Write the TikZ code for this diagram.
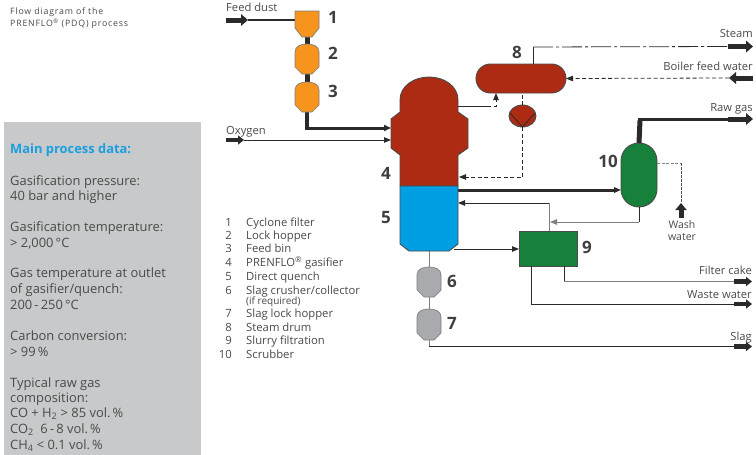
\documentclass[tikz,border=0pt]{standalone}
\usepackage{fontspec}
\setmainfont{Open Sans}
\usetikzlibrary{arrows.meta,shapes.geometric}
\definecolor{panel}{HTML}{C8C9CA}
\definecolor{bluetxt}{HTML}{1B9FE0}
\definecolor{orng}{HTML}{F7941E}
\definecolor{redv}{HTML}{AE2B13}
\definecolor{bluev}{HTML}{009FE3}
\definecolor{greenv}{HTML}{17803A}
\definecolor{grayv}{HTML}{A9AAAD}
\definecolor{ink}{HTML}{2B2A29}
\definecolor{txt}{HTML}{4A4A4A}
\definecolor{greyline}{HTML}{808080}
\tikzset{
  port/.style={inner sep=0pt,outer sep=0pt,minimum width=#1},
  outline/.style={draw=ink!85,line width=0.9pt},
  vesselout/.style={draw=ink!60,line width=0.7pt},
  thin line/.style={draw=ink,line width=0.8pt},
  grey line/.style={draw=greyline,line width=1pt},
  heavy/.style={draw=ink,line width=3pt},
  heavier/.style={draw=ink,line width=5pt},
  smalltip/.style={-{Triangle[width=5.5pt,length=7pt]}},
  dashline/.style={draw=ink,line width=0.8pt,dash pattern=on 4pt off 2.5pt},
  dotline/.style={draw=ink!80,line width=0.8pt,dash pattern=on 2.5pt off 1.5pt},
  dashdot/.style={draw=ink,line width=0.8pt,dash pattern=on 20pt off 3pt on 3pt off 3pt},
  stubarrow/.style={draw=ink,fill=none,line width=5pt,-{Triangle[width=11.5pt,length=7pt]}},
  smallstub/.style={draw=ink,fill=none,line width=4.4pt,-{Triangle[width=9pt,length=6pt]}},
  tagtxt/.style={inner sep=0pt,font=\fontsize{17}{17}\selectfont\bfseries,text=ink!90},
  flowtxt/.style={inner sep=0pt,font=\fontsize{11.2}{13}\selectfont,text=ink!85},
  datatxt/.style={inner sep=0pt,anchor=base west,font=\fontsize{12.9}{15}\selectfont,text=txt},
  captxt/.style={inner sep=0pt,anchor=base west,font=\fontsize{8.8}{10}\selectfont\addfontfeatures{LetterSpace=9},text=ink!85},
  numtxt/.style={inner sep=0pt,anchor=base east,font=\fontsize{11.3}{13}\selectfont,text=txt},
  itemtxt/.style={inner sep=0pt,anchor=base west,font=\fontsize{11.3}{13}\selectfont,text=txt},
}
\newcommand{\roundhop}[4]{% fill, x centre, top, bottom
  \path[fill=#1,vesselout] ({#2-12},{#4-7}) -- ({#2-12},{#3+8})
    .. controls ({#2-12},{#3+2}) and ({#2-6},{#3}) .. (#2,#3)
    .. controls ({#2+6},{#3}) and ({#2+12},{#3+2}) .. ({#2+12},{#3+8})
    -- ({#2+12},{#4-7}) -- ({#2+5},#4) -- ({#2-5},#4) -- cycle;}
\begin{document}
\begin{tikzpicture}[x=1pt,y=-1pt]
\useasboundingbox (0,0) rectangle (756,455);
\fill[white] (0,0) rectangle (756,455);
% panel
\node[fill=panel,inner sep=0pt,minimum width=197pt,minimum height=333pt,anchor=north west] (panelbox) at (4,122) {};
\node[captxt] (capa) at (10,14) {Flow diagram of the};
\node[captxt] (capb) at (10,27) {PRENFLO\textsuperscript{®} (PDQ) process};
\node[datatxt,text=bluetxt,font=\fontsize{12.9}{15}\selectfont\bfseries] (d0) at (10,153) {Main process data:};
\node[datatxt] (d1) at (10,185) {Gasification pressure:};
\node[datatxt] (d2) at (10,200) {40 bar and higher};
\node[datatxt] (d3) at (10,231) {Gasification temperature:};
\node[datatxt] (d4) at (10,247) {> 2,000\,°C};
\node[datatxt] (d5) at (10,277) {Gas temperature at outlet};
\node[datatxt] (d6) at (10,293) {of gasifier/quench:};
\node[datatxt] (d7) at (10,309) {200\,-\,250\,°C};
\node[datatxt] (d8) at (10,340) {Carbon conversion:};
\node[datatxt] (d9) at (10,356) {> 99\,\%};
\node[datatxt] (d10) at (10,387) {Typical raw gas};
\node[datatxt] (d11) at (10,402) {composition:};
\node[datatxt] (d12) at (10,417) {CO + H\textsubscript{2} > 85 vol.\,\%};
\node[datatxt] (d13) at (10,433) {CO\textsubscript{2}\ \ 6\,-\,8 vol.\,\%};
\node[datatxt] (d14) at (10,449) {CH\textsubscript{4} < 0.1 vol.\,\%};
% legend
\foreach \nn/\yy/\lbl in {1/226/{Cyclone filter},2/239/{Lock hopper},3/252/{Feed bin},4/266/{PRENFLO\textsuperscript{®} gasifier},5/280/{Direct quench},6/294/{Slag crusher/collector},7/317/{Slag lock hopper},8/331/{Steam drum},9/344/{Slurry filtration},10/358/{Scrubber}}{
  \node[numtxt] (ln\nn) at (232,\yy) {\nn};
  \node[itemtxt] (lt\nn) at (246,\yy) {\lbl};
}
\node[itemtxt,font=\fontsize{10}{11}\selectfont] (ltif) at (246,304) {(if required)};
% invisible vessel frames
\node[port=24pt,minimum height=26pt] (v1) at (307,24) {};
\node[port=24pt,minimum height=30pt] (v2) at (307,59) {};
\node[port=24pt,minimum height=30pt] (v3) at (307,97) {};
\node[port=58pt,minimum height=109pt] (v4) at (429,131.5) {};
\node[port=58pt,minimum height=65pt] (v5) at (429,218.5) {};
\node[port=24pt,minimum height=30pt] (v6) at (429,282) {};
\node[port=24pt,minimum height=31pt] (v7) at (429,324.5) {};
% free ends and ports
\coordinate (feedin) at (226,20);
\coordinate (feedstub) at (248,20);
\coordinate (oxin) at (226,140);
\coordinate (oxstub) at (244,140);
\coordinate (v1w) at (295,20);
\coordinate (g1) at (391,128);
\coordinate (g2) at (391,140);
\coordinate (elbow3) at (307,128);
\coordinate (steamA) at (533,47);
\coordinate (steamB) at (728,46.5);
\coordinate (steamC) at (753,46.5);
\coordinate (bfwA) at (753,78);
\coordinate (bfwB) at (729,78);
\coordinate (rawA) at (640,119);
\coordinate (rawB) at (728,119);
\coordinate (rawC) at (753,119);
\coordinate (g3) at (458,106);
\coordinate (g3b) at (487,106);
\coordinate (g3c) at (496,106);
\coordinate (g4) at (459,177);
\coordinate (g4b) at (522.5,177);
\coordinate (q1) at (458,190);
\coordinate (q2) at (458,203);
\coordinate (q2b) at (549,203);
\coordinate (q3) at (454,249);
\coordinate (s1) at (639,222);
\coordinate (s2) at (550,222);
\coordinate (w1) at (681,163);
\coordinate (w2) at (681,203);
\coordinate (w3) at (681,218);
\coordinate (cakeA) at (564,281.5);
\coordinate (cakeB) at (734,281.5);
\coordinate (cakeC) at (752,281.5);
\coordinate (wasteA) at (531,304);
\coordinate (wasteB) at (734,304);
\coordinate (wasteC) at (752,304);
\coordinate (slagA) at (429,346.5);
\coordinate (slagB) at (734,346.5);
\coordinate (slagC) at (752,346.5);
% equipment nodes
\node[fill=redv,outline,rounded corners=14.4pt,minimum width=90pt,minimum height=29pt,inner sep=0pt,outer sep=0pt] (v8) at (521,78.5) {};
\node[fill=redv,outline,ellipse,minimum width=27pt,minimum height=22pt,inner sep=0pt,outer sep=0pt] (hx) at (522.5,116) {};
\node[fill=greenv,outline,minimum width=58pt,minimum height=35pt,inner sep=0pt,outer sep=0pt] (v9) at (548,248.5) {};
\node[fill=greenv,outline,rounded corners=17.9pt,minimum width=36pt,minimum height=64pt,inner sep=0pt,outer sep=0pt] (v10) at (639,175) {};
% connectors
\draw[thin line,line width=2pt] (feedstub) -- (v1w);
\draw[stubarrow] (feedin) -- (feedstub);
\draw[heavier] (v1.south) -- (v2.north);
\draw[heavier] (v2.south) -- (v3.north);
\draw[draw=ink,line width=4.5pt] (v3.south) -- (elbow3);
\draw[draw=ink,line width=3pt,-{Triangle[width=6pt,length=7pt]}] ([xshift=-2.25pt]elbow3) -- (g1);
\draw[smallstub] (oxin) -- (oxstub);
\draw[thin line,smalltip] (oxstub) -- (g2);
\draw[thin line] (steamA) -- (v8.north -| steamA);
\draw[dashdot] (steamA) -- (steamB);
\draw[stubarrow] (steamB) -- (steamC);
\draw[stubarrow] (bfwA) -- (bfwB);
\draw[dashline,smalltip] (bfwB) -- (v8.east);
\draw[thin line] (g3) -- (g3b);
\draw[dashline,smalltip] (g3b) -- (g3c) -- (g3c |- v8.south);
\draw[dashline] (hx.north) -- (hx.north |- v8.south);
\draw[dashline,smalltip] (hx.south) -- (g4b) -- (g4);
\draw[heavy,smalltip] (q1) -- (v10.west |- q1);
\draw[draw=ink,line width=5pt] (v10.north) -- ([yshift=-1.5pt]rawA);
\draw[heavy] ([xshift=-2.5pt]rawA) -- (rawB);
\draw[stubarrow] (rawB) -- (rawC);
\draw[thin line] (v10.south) -- (s1);
\draw[grey line,smalltip] (s1) -- (s2);
\draw[grey line] (v9.north -| q2b) -- (q2b);
\draw[thin line,smalltip] (q2b) -- (q2);
\draw[thin line,smalltip] (q3) -- (v9.west |- q3);
\draw[grey line,dash pattern=on 3pt off 1.5pt] (v10.east |- w1) -- (w1);
\draw[dotline] (w1) -- (w2);
\draw[smallstub,line width=5pt,-{Triangle[width=11pt,length=7pt]}] (w3) -- (w2);
\draw[thin line] (v9.south -| cakeA) -- (cakeA);
\draw[grey line] (cakeA) -- (cakeB);
\draw[smallstub] (cakeB) -- (cakeC);
\draw[thin line] (v9.south -| wasteA) -- (wasteA) -- (wasteB);
\draw[smallstub] (wasteB) -- (wasteC);
\draw[grey line] (v5.south) -- (v6.north);
\draw[grey line] (v6.south) -- (v7.north);
\draw[grey line] (v7.south) -- (slagA);
\draw[thin line] (slagA) -- (slagB);
\draw[smallstub] (slagB) -- (slagC);
% exchanger interior
\draw[thin line] (hx.south) -- (510,113);
\draw[thin line] (hx.south) -- (535,113);
% hoppers
\path[fill=orng,vesselout] (295,11) -- (319,11) -- (319,28) -- (312,37) -- (302,37) -- (295,28) -- cycle;
\roundhop{orng}{307}{44}{74}
\roundhop{orng}{307}{82}{112}
\roundhop{grayv}{429}{267}{297}
\roundhop{grayv}{429}{309}{340}
% gasifier
\path[fill=redv,outline] (400,186) -- (400,155) -- (391,148) -- (391,119) -- (400,112) -- (400,100)
  .. controls (400,86) and (414,77) .. (429,77)
  .. controls (444,77) and (458,86) .. (458,100)
  -- (458,112) -- (468,119) -- (468,148) -- (458,155) -- (458,186) -- cycle;
% quench
\path[fill=bluev,outline] (400,186) -- (458,186) -- (458,244) -- (449,251) -- (409,251) -- (400,244) -- cycle;
% tags
\node[tagtxt] (t1) at (333,17) {1};
\node[tagtxt] (t2) at (333,53) {2};
\node[tagtxt] (t3) at (333,91) {3};
\node[tagtxt] (t4) at (386,173) {4};
\node[tagtxt] (t5) at (386,218) {5};
\node[tagtxt] (t6) at (452,281) {6};
\node[tagtxt] (t7) at (452,323) {7};
\node[tagtxt] (t8) at (517,52) {8};
\node[tagtxt] (t9) at (587,247) {9};
\node[tagtxt] (t10) at (608,161) {10};
% stream labels
\node[flowtxt,anchor=base west] (lf) at (226,12) {Feed dust};
\node[flowtxt,anchor=base west] (lo) at (226,134) {Oxygen};
\node[flowtxt,anchor=base east] (ls) at (753,37) {Steam};
\node[flowtxt,anchor=base east] (lb) at (753,70) {Boiler feed water};
\node[flowtxt,anchor=base east] (lr) at (753,111) {Raw gas};
\node[flowtxt,anchor=base east] (lc) at (752,274) {Filter cake};
\node[flowtxt,anchor=base east] (lw) at (752,298) {Waste water};
\node[flowtxt,anchor=base east] (ll) at (752,340) {Slag};
\node[flowtxt,align=center,font=\fontsize{10.5}{12}\selectfont] (lww) at (682,231) {Wash\\water};
\end{tikzpicture}
\end{document}
